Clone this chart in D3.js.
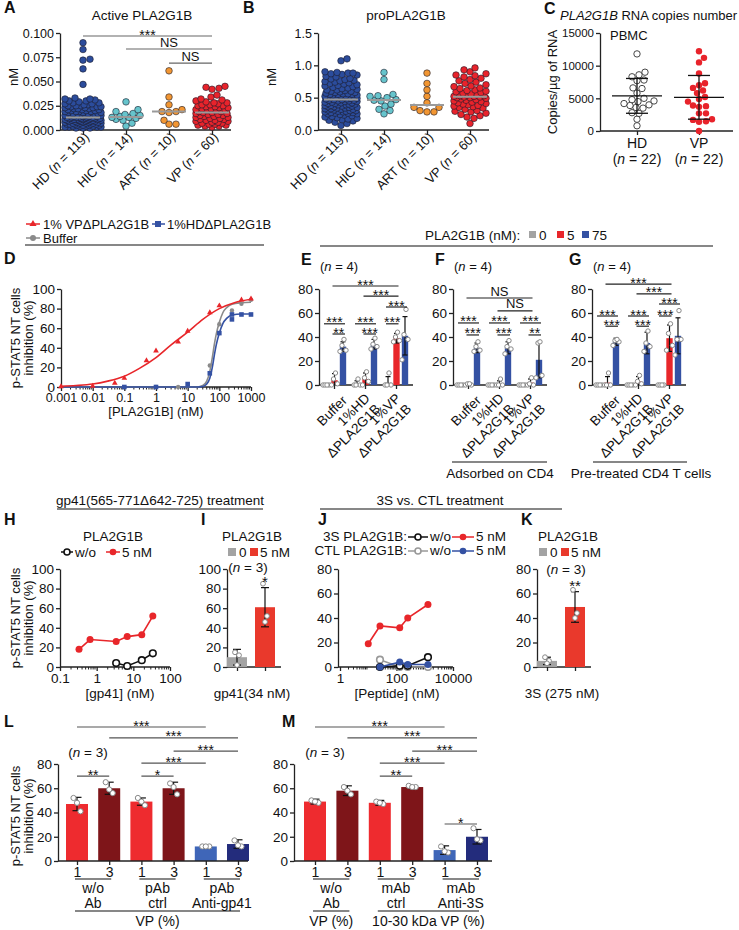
<!DOCTYPE html>
<html><head><meta charset="utf-8">
<script src="https://cdn.jsdelivr.net/npm/d3@7"></script>
<style>body{margin:0;background:#fff}</style>
</head><body>
<script>
// ================= DATA =================
const groupsAB = ['HD','HIC','ART','VP'];
const groupN = [119,14,10,60];
// A: active PLA2G1B (nM)
const activeHD = [0.090,0.083,0.073,0.072,0.063,0.047,0.033,0.032,0.032,0.031,0.030,0.030,0.029,0.028,0.028,0.027,0.027,0.026,0.026,0.025,0.025,0.025,0.024,0.024,0.024,0.023,0.023,0.023,0.022,0.022,0.022,0.021,0.021,0.021,0.020,0.020,0.020,0.019,0.019,0.019,0.019,0.018,0.018,0.018,0.017,0.017,0.017,0.016,0.016,0.016,0.016,0.015,0.015,0.015,0.015,0.014,0.014,0.014,0.014,0.013,0.013,0.013,0.013,0.013,0.012,0.012,0.012,0.012,0.012,0.011,0.011,0.011,0.011,0.011,0.010,0.010,0.010,0.010,0.010,0.009,0.009,0.009,0.009,0.009,0.008,0.008,0.008,0.008,0.008,0.007,0.007,0.007,0.007,0.007,0.006,0.006,0.006,0.006,0.006,0.005,0.005,0.005,0.005,0.004,0.004,0.004,0.004,0.003,0.003,0.003,0.003,0.002,0.002,0.002,0.013,0.012,0.011,0.010,0.009];
const activeHIC = [0.029,0.021,0.019,0.017,0.016,0.015,0.014,0.013,0.013,0.012,0.011,0.010,0.007,0.004];
const activeART = [0.061,0.034,0.026,0.021,0.019,0.019,0.018,0.010,0.006,0.006];
const activeVP = [0.045,0.044,0.043,0.042,0.036,0.034,0.032,0.031,0.030,0.029,0.028,0.028,0.027,0.026,0.026,0.025,0.025,0.024,0.024,0.023,0.023,0.022,0.022,0.021,0.021,0.020,0.020,0.019,0.019,0.018,0.018,0.017,0.017,0.016,0.016,0.015,0.015,0.014,0.014,0.013,0.013,0.012,0.012,0.011,0.011,0.010,0.010,0.009,0.009,0.008,0.008,0.007,0.007,0.006,0.006,0.005,0.005,0.004,0.004,0.003];
// B: proPLA2G1B (nM)
const proHD = [1.10,1.07,0.90,0.89,0.88,0.88,0.87,0.86,0.85,0.83,0.82,0.80,0.79,0.78,0.77,0.76,0.75,0.74,0.73,0.72,0.71,0.70,0.69,0.68,0.67,0.66,0.65,0.64,0.63,0.62,0.62,0.61,0.60,0.60,0.59,0.58,0.58,0.57,0.56,0.56,0.55,0.55,0.54,0.54,0.53,0.53,0.52,0.52,0.51,0.51,0.50,0.50,0.50,0.49,0.49,0.48,0.48,0.47,0.47,0.46,0.46,0.45,0.45,0.44,0.44,0.43,0.43,0.42,0.42,0.41,0.41,0.40,0.40,0.39,0.39,0.38,0.38,0.37,0.37,0.36,0.36,0.35,0.35,0.34,0.34,0.33,0.33,0.32,0.32,0.31,0.31,0.30,0.30,0.29,0.29,0.28,0.28,0.27,0.27,0.26,0.26,0.25,0.25,0.24,0.23,0.22,0.21,0.20,0.19,0.18,0.17,0.16,0.15,0.14,0.12,0.10,0.07,0.55,0.52];
const proHIC = [0.89,0.78,0.55,0.53,0.52,0.50,0.47,0.46,0.45,0.40,0.37,0.32,0.30,0.25];
const proART = [0.88,0.72,0.62,0.52,0.42,0.35,0.35,0.30,0.28,0.28];
const proVP = [0.96,0.93,0.90,0.87,0.85,0.84,0.82,0.80,0.78,0.76,0.74,0.72,0.70,0.68,0.67,0.65,0.64,0.62,0.61,0.60,0.59,0.58,0.57,0.56,0.55,0.54,0.53,0.53,0.52,0.52,0.51,0.51,0.50,0.50,0.49,0.48,0.47,0.46,0.45,0.44,0.43,0.42,0.41,0.40,0.39,0.38,0.37,0.36,0.35,0.34,0.32,0.30,0.29,0.28,0.26,0.24,0.22,0.20,0.18,0.10];
// C: RNA copies / ug
const rnaHD = [11800,9000,8600,8300,7800,7700,6600,6500,5800,5000,4800,4600,4500,4200,4000,3900,3600,3500,2800,2700,1800,800];
const rnaVP = [12200,11200,10500,8800,7300,7000,6600,6200,5800,5200,4900,4500,3900,3800,3700,2700,2700,1800,1700,1500,1400,0];
// D: dose response
const dDoseVP = [0.001,0.01,0.05,0.1,0.5,1,5,10,50,100,500,1000];
const dVP     = [0.5,1,4,9,27,37,46,57,76,83,89,90];
const dDoseHD = [0.1,1,10,50,100,250,250,500,1000];
const dHD     = [0,0,3,14,55,69,74,74,74];
const dDoseBuf= [1,5,50,100,250,500,1000];
const dBuf    = [0,0,22,64,78,85,89];
const fitDoseVP = [0.001,0.003,0.01,0.03,0.1,0.3,1,3,10,30,100,300,1000];
const fitVP     = [0.7,1.5,3,6,11,19,30,43,56,69,80,86,89.5];
const fitDose2  = [0.001,20,30,40,50,60,70,80,100,130,170,250,500,1000];
const fitHD     = [0,0,0.5,3,9,20,33,43,55,65,70,73.5,74.5,74.5];
const fitBuf    = [0,0,1.5,6,16,30,44,54,66,76,81,84.5,86,86.5];
// E/F/G: [group][dose]
const efgGroups = [['Buffer'],['1%HD','\u0394PLA2G1B'],['1%VP','\u0394PLA2G1B']];
const efgDoses = ['0','5','75'];
const eMean = [[0,4,32],[1,5,34],[2,39,41]];
const eSD   = [[0,5.5,4],[2.5,5,4],[5,4,16]];
const ePts  = [[[0,0,0,0],[0,1,5,10],[28,29,33,38]],[[0,0,0,5],[0,3,6,11],[30,32,34,39]],[[0,0,0,10],[36,37,40,44],[21,38,42,63]]];
const eSig  = [[0,1,2,1,82.5,'***'],[1,1,2,1,74,'***'],[2,0,2,2,65,'***'],[0,0,0,2,51,'***'],[0,1,0,2,42.5,'**'],[1,0,1,2,51,'***'],[1,1,1,2,42.5,'***'],[2,0,2,1,51,'***']];
const fMean = [[0,0.5,31],[0,1,31],[0,2,21]];
const fSD   = [[0,0.5,4],[0,2.5,5],[0,3,15]];
const fPts  = [[[0,0,0,0],[0,0,1,1],[28,29,32,36]],[[0,0,0,0],[0,0,0,5],[26,30,32,37]],[[0,0,0,0],[0,0,1,6],[6,8,35,36]]];
const fSig  = [[0,1,2,1,72.5,'NS'],[1,1,2,1,61.7,'NS'],[0,0,0,2,51.7,'***'],[0,1,0,2,41.7,'***'],[1,0,1,2,51.7,'***'],[1,1,1,2,41.7,'***'],[2,0,2,2,51.7,'***'],[2,1,2,2,41.7,'**']];
const gMean = [[0,2,36],[0,3,35],[0,39,41]];
const gSD   = [[0,5,3],[0,4,9],[0,11,15]];
const gPts  = [[[0,0,0,0],[0,0,0,10],[33,36,37,38]],[[0,0,0,0],[0,1,3,8],[28,32,35,45]],[[0,0,0,0],[29,33,43,51],[25,38,38,62]]];
const gSig  = [[0,1,2,1,84,'***'],[1,1,2,1,76,'***'],[2,0,2,2,67.5,'***'],[0,0,0,2,57.5,'***'],[0,1,0,2,49,'***'],[1,0,1,2,57.5,'***'],[1,1,1,2,49,'***'],[2,0,2,1,57.5,'***']];
// H
const hDose5 = [0.33,0.66,3.4,6.8,17,34];
const h5nM   = [18,28,26,31,33,52];
const hDoseWo= [3.4,6.8,17,34];
const hWo    = [4,1,7,14];
// I
const iMean = [10,61]; const iSD = [8,20]; const iPts = [[15,12,2],[85,52,46]];
// J
const jDose5   = [10,26,130,250,1300];
const j3S5     = [19,33.5,32,40,51];
const jDoseLow = [26,130,250,1300];
const j3Swo    = [0,1,1,8];
const jCTLwo   = [6,0,0,0];
const jCTL5    = [0,4,2,2];
// K
const kMean = [5,49]; const kSD = [3,12.5]; const kPts = [[8,5,3],[63,44,40]];
// L / M
const lmDoses = ['1','3','1','3','1','3'];
const lMean = [47,60,49,60,12,14]; const lSD = [5.5,5,3,5,1,3.5];
const lPts  = [[52,41,48],[65,56,59],[52,46,49],[64,55,61],[12,12,12],[17,12,13]];
const lGroups = [['w/o','Ab'],['pAb','ctrl'],['pAb','Anti-gp41']];
const lSig  = [[0,4,110.5,'***'],[1,5,101.5,'***'],[3,5,90.7,'***'],[2,4,80.8,'***'],[0,1,70,'**'],[2,3,70,'*']];
const mMean = [49,58,48,61,9,20]; const mSD = [2,4,2,1,3.5,6];
const mPts  = [[50,48,49],[61,55,58],[49,47,48],[62,61,61],[12,7,8],[27,17,18]];
const mGroups = [['w/o','Ab'],['mAb','ctrl'],['mAb','Anti-3S']];
const mSig  = [[0,4,110.5,'***'],[1,5,101.5,'***'],[3,5,90.7,'***'],[2,4,80.8,'***'],[2,3,70,'**'],[4,5,30.5,'*']];

// ================= HELPERS =================
const FF = '"Liberation Sans", Arial, Helvetica, sans-serif';
const svg = d3.select('body').append('svg').attr('width',739).attr('height',930).style('font-family',FF);
svg.append('rect').attr('width',739).attr('height',930).attr('fill','#fff');
const C = {hd:'#2b4c9c',hic:'#66c4cc',art:'#f29632',vp:'#e8232b',gray:'#a3a3a3',red:'#e8262a',blue:'#3451a3',
  lred:'#ee2b2f',dred:'#7e1519',lblue:'#3f66b8',navy:'#232c7c',ired:'#e9392c'};

function T(x,y,s,o={}){
  const t=svg.append('text').attr('x',x).attr('y',y).attr('font-size',o.size||13)
    .attr('text-anchor',o.anchor||'start').attr('fill',o.fill||'#111');
  if(o.weight) t.attr('font-weight',o.weight);
  if(o.italic) t.attr('font-style','italic');
  if(o.rot!=null) t.attr('transform',`rotate(${o.rot},${x},${y})`);
  if(Array.isArray(s)) s.forEach(p=>{const ts=t.append('tspan').text(p.t); if(p.i) ts.attr('font-style','italic');});
  else t.text(s);
  return t;
}
function L(x1,y1,x2,y2,c='#111',w=1.2){svg.append('line').attr('x1',x1).attr('y1',y1).attr('x2',x2).attr('y2',y2).attr('stroke',c).attr('stroke-width',w);}
function styleAx(g,size){g.attr('font-family',FF).attr('font-size',size);
  g.selectAll('.domain').attr('stroke','#222').attr('stroke-width',1.3);
  g.selectAll('.tick line').attr('stroke','#222').attr('stroke-width',1.3);
  g.selectAll('.tick text').attr('fill','#111');}
function yAx(scale,x,ticks,fmt,size=13){const g=svg.append('g').attr('transform',`translate(${x},0)`)
  .call(d3.axisLeft(scale).tickValues(ticks).tickFormat(fmt).tickSize(4).tickPadding(2).tickSizeOuter(0));styleAx(g,size);return g;}
function xAx(scale,y,ticks,fmt,size,x0,x1,tick=4){if(x0!=null)L(x0,y,x1,y,'#222',1.3);
  const g=svg.append('g').attr('transform',`translate(0,${y})`)
  .call(d3.axisBottom(scale).tickValues(ticks).tickFormat(fmt).tickSize(tick).tickPadding(2).tickSizeOuter(0));
  if(x0!=null)g.select('.domain').remove();styleAx(g,size);return g;}
function letter(x,y,s){T(x,y,s,{size:16,weight:'bold'});}
function sig(x1,x2,y,label,c='#444'){L(x1,y,x2,y,c,1.2);
  if(label==='NS')T((x1+x2)/2,y-2.5,'NS',{anchor:'middle',size:13});
  else T((x1+x2)/2,y+3.5,label,{anchor:'middle',size:14});}
function yLabel2(x1,x2,cy){T(x1,cy,'p-STAT5 NT cells',{rot:-90,anchor:'middle'});T(x2,cy,'inhibition (%)',{rot:-90,anchor:'middle'});}
function nLab(x,y,n,size=13){T(x,y,[{t:'('},{t:'n',i:true},{t:' = '+n+')'}],{anchor:'middle',size});}
function swarm(vals,y,cx,r,maxW){
  const pts=vals.map(v=>({v,py:y(v)})).sort((a,b)=>b.py-a.py);const placed=[];const md=2*r*0.95;
  for(const p of pts){let best=0,bestD=-1;
    for(let k=0;k<=2*maxW;k++){const off=(k%2?1:-1)*Math.ceil(k/2);let dmin=Infinity;
      for(const q of placed){const d=Math.hypot(q.px-(cx+off),q.py-p.py);if(d<dmin)dmin=d;}
      if(dmin>=md){best=off;bestD=dmin;break;} if(dmin>bestD){bestD=dmin;best=off;}}
    p.px=cx+best;placed.push(p);}
  return pts;}
function logMinor(scale,y,lo,hi){for(let d=lo;d<hi;d*=10)for(let k=2;k<=9;k++){const v=d*k;const x=scale(v);L(x,y,x,y+2.5,'#222',1);}}
function errBar(x,y,m,sd,cap,c='#111'){const lo=Math.max(0,m-sd),hi=m+sd;L(x,y(lo),x,y(hi),c,1.2);L(x-cap,y(hi),x+cap,y(hi),c,1.2);if(lo>0)L(x-cap,y(lo),x+cap,y(lo),c,1.2);}
function openPts(x,y,vals,offs,r=2.3){vals.forEach((v,i)=>svg.append('circle').attr('cx',x+offs[i%offs.length]).attr('cy',y(v)).attr('r',r).attr('fill','#fff').attr('stroke','#888').attr('stroke-width',1));}

// ================= PANEL A & B =================
function scatterPanel(cfg){
  const y=d3.scaleLinear().domain(cfg.dom).range([130,33]);
  const x=d3.scalePoint().domain(groupsAB).range([cfg.ax+23,cfg.ax+152]);
  letter(cfg.lx,13,cfg.letter);
  T(cfg.tx,20,cfg.title,{anchor:'middle',size:13.5});
  yAx(y,cfg.ax,cfg.ticks,cfg.fmt,12.5);
  xAx(x,130,groupsAB,()=>'',13,cfg.ax,cfg.ax+171);
  T(cfg.ax-42,77,'nM',{rot:-90,anchor:'middle'});
  const cols=[C.hd,C.hic,C.art,C.vp];
  cfg.data.forEach((vals,i)=>{
    const cx=x(groupsAB[i]);
    swarm(vals,y,cx,3.3,cfg.w[i]).forEach(p=>svg.append('circle').attr('cx',p.px).attr('cy',p.py).attr('r',3.3)
      .attr('fill',cols[i]).attr('stroke','#1d1d2b').attr('stroke-width',0.6));
    const med=d3.median(vals);L(cx-17,y(med),cx+17,y(med),'#9a9a9a',2);
    const t=svg.append('text').attr('transform',`translate(${cx+7},${138}) rotate(-45)`).attr('text-anchor','end').attr('font-size',13).attr('fill','#111');
    t.append('tspan').text(groupsAB[i]+' (');t.append('tspan').attr('font-style','italic').text('n');t.append('tspan').text(' = '+groupN[i]+')');
  });
  if(cfg.sig)cfg.sig.forEach(s=>sig(x(s[0]),x(s[1]),y(s[2]),s[3],'#666'));
}
scatterPanel({letter:'A',lx:4,ax:60,tx:142,title:'Active PLA2G1B',dom:[0,0.1],ticks:[0,0.025,0.05,0.075,0.1],fmt:d3.format('.3f'),w:[18,14,14,16],
  data:[activeHD,activeHIC,activeART,activeVP],sig:[['HD','VP',0.0969,'***'],['HIC','VP',0.0835,'NS'],['ART','VP',0.069,'NS']]});
scatterPanel({letter:'B',lx:243,ax:318,tx:406,title:'proPLA2G1B',dom:[0,1.5],ticks:[0,0.5,1,1.5],fmt:d3.format('.1f'),w:[16,14,14,16],
  data:[proHD,proHIC,proART,proVP]});

// ================= PANEL C =================
(function(){
  const y=d3.scaleLinear().domain([0,15000]).range([131,33]);
  const x=d3.scalePoint().domain(['HD','VP']).range([637,699]);
  letter(544,14,'C');
  T(560,20,[{t:'PLA2G1B',i:true},{t:' RNA copies number'}],{size:13});
  yAx(y,600,[0,5000,10000,15000],d3.format('d'),11.5);
  xAx(x,131,['HD','VP'],()=>'',13,600,733);
  T(610,40,'PBMC');
  T(557,82,'Copies/\u00b5g of RNA',{rot:-90,anchor:'middle'});
  [['HD',rnaHD],['VP',rnaVP]].forEach(([g,vals])=>{
    const cx=x(g);
    swarm(vals,y,cx,3.2,18).forEach(p=>{const c=svg.append('circle').attr('cx',p.px).attr('cy',p.py).attr('r',3.2);
      if(g==='HD')c.attr('fill','#fff').attr('stroke','#333').attr('stroke-width',0.9);else c.attr('fill',C.vp);});
    const m=d3.mean(vals),sd=d3.deviation(vals);
    L(cx-25,y(m),cx+25,y(m),'#111',1.3);L(cx,y(m-sd),cx,y(m+sd),'#111',1.3);
    L(cx-11,y(m-sd),cx+11,y(m-sd),'#111',1.3);L(cx-11,y(m+sd),cx+11,y(m+sd),'#111',1.3);
    T(cx,148,g,{anchor:'middle',size:14});nLab(cx,164,22,14);
  });
})();

// ================= PANEL D =================
(function(){
  const ly1=224, ly2=238;
  L(26,ly1,40,ly1,C.red,1.5);svg.append('path').attr('d',d3.symbol(d3.symbolTriangle,22)()).attr('transform',`translate(33,${ly1})`).attr('fill',C.red);
  T(43,ly1+4.5,'1% VP\u0394PLA2G1B');
  L(152,ly1,165,ly1,C.blue,1.5);svg.append('rect').attr('x',155).attr('y',ly1-3).attr('width',6).attr('height',6).attr('fill',C.blue);
  T(167,ly1+4.5,'1%HD\u0394PLA2G1B');
  L(26,ly2,40,ly2,'#8a8a8a',1.5);svg.append('circle').attr('cx',33).attr('cy',ly2).attr('r',3).attr('fill','#8a8a8a');
  T(43,ly2+4.5,'Buffer');
  L(25,245,264,245,'#111',1.2);
  letter(4,264,'D');
  const x=d3.scaleLog().domain([0.001,1000]).range([61,251]);
  const y=d3.scaleLinear().domain([0,100]).range([387,289]);
  yAx(y,61,[0,20,40,60,80,100],d3.format('d'),13.5);
  xAx(x,387,[0.001,0.01,0.1,1,10,100,1000],v=>String(v),12.5,61,251,4);
  logMinor(x,387,0.001,1000);
  T(156,416,'[PLA2G1B] (nM)',{anchor:'middle'});
  yLabel2(20,33,338);
  const line=d3.line().x(d=>x(d[0])).y(d=>y(d[1])).curve(d3.curveMonotoneX);
  const draw=(xs,ys,c)=>svg.append('path').attr('d',line(xs.map((v,i)=>[v,ys[i]]))).attr('fill','none').attr('stroke',c).attr('stroke-width',1.6);
  draw(fitDose2,fitBuf,'#8a8a8a');draw(fitDose2,fitHD,C.blue);draw(fitDoseVP,fitVP,C.red);
  dDoseBuf.forEach((d,i)=>svg.append('circle').attr('cx',x(d)).attr('cy',y(dBuf[i])).attr('r',2.2).attr('fill','#8a8a8a'));
  dDoseHD.forEach((d,i)=>svg.append('rect').attr('x',x(d)-2.3).attr('y',y(dHD[i])-2.3).attr('width',4.6).attr('height',4.6).attr('fill',C.blue));
  dDoseVP.forEach((d,i)=>svg.append('path').attr('d',d3.symbol(d3.symbolTriangle,14)()).attr('transform',`translate(${x(d)},${y(dVP[i])})`).attr('fill',C.red));
})();

// ================= PANELS E F G =================
L(320,246,713,246,'#111',1.2);
T(425,240,'PLA2G1B (nM):',{size:13.5});
[[529,C.gray,'0'],[557,C.red,'5'],[582,C.blue,'75']].forEach(([x,c,t])=>{svg.append('rect').attr('x',x).attr('y',231).attr('width',7).attr('height',7).attr('fill',c);T(x+10,240,t,{size:13.5});});
function efg(cfg){
  const y=d3.scaleLinear().domain([0,80]).range([385,289]);
  const gx=d3.scaleBand().domain([0,1,2]).range([cfg.ax,cfg.ax+93]);
  const sx=d3.scaleBand().domain([0,1,2]).range([0,gx.bandwidth()]).paddingInner(0.25).paddingOuter(0.45);
  const bw=sx.bandwidth();
  const bx=(g,s)=>gx(g)+sx(s)+bw/2;
  letter(cfg.lx,265,cfg.letter);
  nLab(cfg.ax+20,271,4);
  yAx(y,cfg.ax,[0,20,40,60,80],d3.format('d'),13.5);
  xAx(gx,385,[0,1,2],()=>'',13,cfg.ax,cfg.ax+94,4);
  const cols=[C.gray,C.red,C.blue];
  cfg.mean.forEach((row,g)=>row.forEach((m,s)=>{
    svg.append('rect').attr('x',bx(g,s)-bw/2).attr('y',y(m)).attr('width',bw).attr('height',y(0)-y(m)).attr('fill',cols[s]);
  }));
  cfg.mean.forEach((row,g)=>row.forEach((m,s)=>{
    if(cfg.sd[g][s]>0)errBar(bx(g,s),y,m,cfg.sd[g][s],2.5);
    openPts(bx(g,s),y,cfg.pts[g][s],[-3,3,-1,1],2.2);
  }));
  cfg.sig.forEach(s=>sig(bx(s[0],s[1])-2,bx(s[2],s[3])+2,y(s[4]),s[5],'#222'));
  efgGroups.forEach((lines,g)=>{
    const gc=gx(g)+gx.bandwidth()/2;
    const single=lines.length===1;
    const t=svg.append('text').attr('transform',`translate(${gc+(single?10:7)},${single?398:401}) rotate(-45)`).attr('text-anchor','end').attr('font-size',13.5).attr('fill','#111');
    if(single)t.append('tspan').attr('x',0).attr('dy','0.35em').text(lines[0]);
    else{t.append('tspan').attr('x',0).attr('dy','-0.2em').text(lines[0]);t.append('tspan').attr('x',0).attr('dy','1.1em').text(lines[1]);}
  });
}
efg({letter:'E',lx:301,ax:319,mean:eMean,sd:eSD,pts:ePts,sig:eSig});
efg({letter:'F',lx:435,ax:453,mean:fMean,sd:fSD,pts:fPts,sig:fSig});
efg({letter:'G',lx:569,ax:592,mean:gMean,sd:gSD,pts:gPts,sig:gSig});
L(452,462,547,462,'#111',1.2);T(500,478,'Adsorbed on CD4',{anchor:'middle',size:13.5});
L(593,462,687,462,'#111',1.2);T(641,478,'Pre-treated CD4 T cells',{anchor:'middle',size:13.5});

// ================= H I J K =================
T(160,505,'gp41(565-771\u0394642-725) treatment',{anchor:'middle',size:13.5});L(57,509,263,509,'#111',1.2);
T(440,505,'3S vs. CTL treatment',{anchor:'middle',size:13.5});L(320,509,562,509,'#111',1.2);
const openC=(x,y,c,r=3.3)=>svg.append('circle').attr('cx',x).attr('cy',y).attr('r',r).attr('fill','#fff').attr('stroke',c).attr('stroke-width',1.6);
const fillC=(x,y,c,r=3.5)=>svg.append('circle').attr('cx',x).attr('cy',y).attr('r',r).attr('fill',c);
// H
(function(){
  letter(4,525,'H');T(113,541,'PLA2G1B',{anchor:'middle',size:13.5});
  L(61,552,73,552,'#111',1.5);openC(67,552,'#111',3);T(75,556.5,'w/o',{size:13.5});
  L(106,552,120,552,C.red,1.5);fillC(113,552,C.red,3.3);T(122,556.5,'5 nM',{size:13.5});
  const x=d3.scaleLog().domain([0.1,100]).range([60,170]);
  const y=d3.scaleLinear().domain([0,100]).range([667,569]);
  yAx(y,60,[0,20,40,60,80,100],d3.format('d'),13.5);
  xAx(x,667,[0.1,1,10,100],v=>String(v),13.5,60,170,4);
  logMinor(x,667,0.1,100);
  T(120,698,'[gp41] (nM)',{anchor:'middle',size:13.5});
  yLabel2(20,33,618);
  const line=d3.line().x(d=>x(d[0])).y(d=>y(d[1]));
  svg.append('path').attr('d',line(hDoseWo.map((d,i)=>[d,hWo[i]]))).attr('fill','none').attr('stroke','#111').attr('stroke-width',1.6);
  hDoseWo.forEach((d,i)=>openC(x(d),y(hWo[i]),'#111'));
  svg.append('path').attr('d',line(hDose5.map((d,i)=>[d,h5nM[i]]))).attr('fill','none').attr('stroke',C.red).attr('stroke-width',1.6);
  hDose5.forEach((d,i)=>fillC(x(d),y(h5nM[i]),C.red));
})();
function smallBars(cfg){
  letter(cfg.lx,525,cfg.letter);T(cfg.tx,541,'PLA2G1B',{anchor:'middle',size:13.5});
  svg.append('rect').attr('x',cfg.lgx).attr('y',548).attr('width',8).attr('height',8).attr('fill',C.gray);T(cfg.lgx+11,556.5,'0',{size:13.5});
  svg.append('rect').attr('x',cfg.lgx+22).attr('y',548).attr('width',8).attr('height',8).attr('fill',C.ired);T(cfg.lgx+32,556.5,'5 nM',{size:13.5});
  nLab(cfg.nx,cfg.ny,3,13.5);
  const y=d3.scaleLinear().domain([0,cfg.max]).range([667,569]);
  const x=d3.scalePoint().domain([0,1]).range([cfg.ax+10,cfg.ax+38]);
  yAx(y,cfg.ax,d3.range(0,cfg.max+1,20),d3.format('d'),13.5);
  xAx(x,667,[0,1],()=>'',13,cfg.ax,cfg.ax+54,4);
  const cols=[C.gray,C.ired];
  cfg.mean.forEach((m,i)=>svg.append('rect').attr('x',x(i)-10).attr('y',y(m)).attr('width',20).attr('height',y(0)-y(m)).attr('fill',cols[i]));
  cfg.mean.forEach((m,i)=>{errBar(x(i),y,m,cfg.sd[i],4);openPts(x(i),y,cfg.pts[i],[-2,2,0],2.4);});
  T(x(1),cfg.sy,cfg.star,{anchor:'middle',size:15});
  T(cfg.ax+25,698,cfg.xlab,{anchor:'middle',size:13.5});
}
smallBars({letter:'I',lx:201,tx:252,lgx:228,nx:248,ny:572,ax:227,max:100,mean:iMean,sd:iSD,pts:iPts,star:'*',sy:587,xlab:'gp41(34 nM)'});
smallBars({letter:'K',lx:521,tx:568,lgx:539,nx:566,ny:574,ax:537,max:80,mean:kMean,sd:kSD,pts:kPts,star:'**',sy:591,xlab:'3S (275 nM)'});
// J
(function(){
  letter(318,525,'J');
  T(407,541,'3S PLA2G1B:',{anchor:'end',size:13.5});
  L(408,537,428,537,'#111',1.5);openC(418,537,'#111',3);T(430,541,'w/o',{size:13.5});
  L(452,537,474,537,C.red,1.5);fillC(463,537,C.red,3.3);T(476,541,'5 nM',{size:13.5});
  T(407,555,'CTL PLA2G1B:',{anchor:'end',size:13.5});
  L(408,551,428,551,'#999',1.5);openC(418,551,'#999',3);T(430,555,'w/o',{size:13.5});
  L(452,551,474,551,C.blue,1.5);fillC(463,551,C.blue,3.3);T(476,555,'5 nM',{size:13.5});
  const x=d3.scaleLog().domain([1,10000]).range([340,453]);
  const y=d3.scaleLinear().domain([0,80]).range([667,569]);
  yAx(y,338,[0,20,40,60,80],d3.format('d'),13.5);
  xAx(x,667,[1,100,10000],v=>String(v),13.5,338,453,4);
  logMinor(x,667,1,10000);
  T(397,698,'[Peptide] (nM)',{anchor:'middle',size:13.5});
  const line=d3.line().x(d=>x(d[0])).y(d=>y(d[1]));
  const pl=(xs,ys,c)=>svg.append('path').attr('d',line(xs.map((d,i)=>[d,ys[i]]))).attr('fill','none').attr('stroke',c).attr('stroke-width',1.6);
  pl(jDoseLow,jCTLwo,'#999');jDoseLow.forEach((d,i)=>openC(x(d),y(jCTLwo[i]),'#999'));
  pl(jDoseLow,j3Swo,'#111');jDoseLow.forEach((d,i)=>openC(x(d),y(j3Swo[i]),'#111'));
  pl(jDoseLow,jCTL5,C.blue);jDoseLow.forEach((d,i)=>fillC(x(d),y(jCTL5[i]),C.blue));
  pl(jDose5,j3S5,C.red);jDose5.forEach((d,i)=>fillC(x(d),y(j3S5[i]),C.red));
})();

// ================= L M =================
function lm(cfg){
  const y=d3.scaleLinear().domain([0,80]).range([861,764]);
  const x=d3.scalePoint().domain(d3.range(6)).range([cfg.x0,cfg.x1]);
  letter(cfg.lx,727,cfg.letter);
  nLab(cfg.nx,757,3,13.5);
  yAx(y,cfg.ax,[0,20,40,60,80],d3.format('d'),13.5);
  const cols=[C.lred,C.dred,C.lred,C.dred,C.lblue,C.navy];
  cfg.mean.forEach((m,i)=>svg.append('rect').attr('x',x(i)-11).attr('y',y(m)).attr('width',22).attr('height',y(0)-y(m)).attr('fill',cols[i]));
  xAx(x,861,d3.range(6),i=>lmDoses[i],14,cfg.ax,cfg.axEnd,4);
  cfg.mean.forEach((m,i)=>{errBar(x(i),y,m,cfg.sd[i],4.5);openPts(x(i),y,cfg.pts[i],[-3.5,3.5,0],2.6);});
  cfg.groups.forEach((g,k)=>{const a=x(2*k)-2,b=x(2*k+1)+2;L(a,879,b,879,'#111',1.2);
    T((a+b)/2,893,g[0],{anchor:'middle',size:14});T((a+b)/2,908,g[1],{anchor:'middle',size:14});});
  cfg.bottom.forEach(([i0,i1,lab])=>{const a=x(i0)-2,b=x(i1)+2;L(a,911,b,911,'#111',1.2);T((a+b)/2,926,lab,{anchor:'middle',size:14});});
  cfg.sig.forEach(s=>sig(x(s[0]),x(s[1]),y(s[2]),s[3],'#555'));
}
lm({letter:'L',lx:4,nx:88,ax:58,axEnd:248,x0:77,x1:238,mean:lMean,sd:lSD,pts:lPts,groups:lGroups,bottom:[[0,5,'VP (%)']],sig:lSig});
lm({letter:'M',lx:282,nx:325,ax:294,axEnd:492,x0:315,x1:477,mean:mMean,sd:mSD,pts:mPts,groups:mGroups,bottom:[[0,1,'VP (%)'],[2,5,'10-30 kDa VP (%)']],sig:mSig});
yLabel2(20,33,816);
</script>
</body></html>
